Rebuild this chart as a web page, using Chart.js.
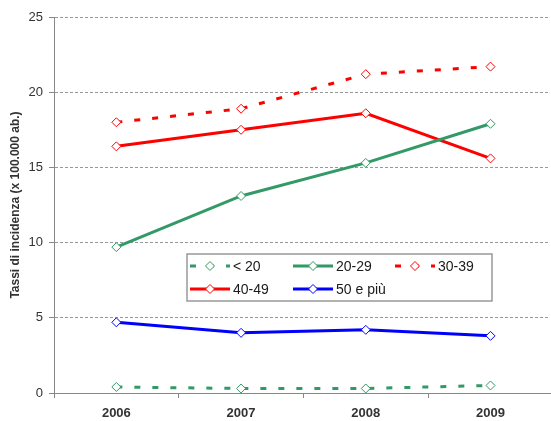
<!DOCTYPE html>
<html>
<head>
<meta charset="utf-8">
<script src="https://cdn.jsdelivr.net/npm/chart.js@4.4.1/dist/chart.umd.min.js"></script>
<style>
  html, body { margin: 0; padding: 0; background: #fff; }
  #wrap { width: 551px; height: 421px; }
</style>
</head>
<body>
<div id="wrap"><canvas id="c" width="551" height="421"></canvas></div>
<script>
// Incidence rates (per 100,000 inhabitants) by age group, 2006-2009
const years = [2006, 2007, 2008, 2009];
const under20 = [0.4, 0.3, 0.3, 0.5];
const age20to29 = [9.7, 13.1, 15.3, 17.9];
const age30to39 = [18.0, 18.9, 21.2, 21.7];
const age40to49 = [16.4, 17.5, 18.6, 15.6];
const age50plus = [4.7, 4.0, 4.2, 3.8];
const yTicks = [0, 5, 10, 15, 20, 25];

const GREEN = '#339966';
const RED = '#ff0000';
const BLUE = '#0000ff';
const FONT = "'Liberation Sans', Arial, sans-serif";

const toPoints = vals => vals.map((v, i) => ({ x: years[i], y: v }));

function series(label, vals, color, dashed) {
  return {
    label,
    data: toPoints(vals),
    borderColor: color,
    backgroundColor: color,
    borderWidth: 3,
    borderDash: dashed ? [6, 12] : [],
    pointStyle: 'rectRot',
    pointRadius: 4.5,
    pointHoverRadius: 4.5,
    pointBorderWidth: 1,
    pointBorderColor: color,
    pointBackgroundColor: '#ffffff',
    tension: 0,
    fill: false
  };
}

// Boxed legend drawn inside the plot area
const boxedLegend = {
  id: 'boxedLegend',
  afterDraw(chart, args, opts) {
    const ctx = chart.ctx;
    const b = opts.box;
    ctx.save();
    ctx.fillStyle = '#ffffff';
    ctx.fillRect(b.x, b.y, b.w, b.h);
    ctx.strokeStyle = '#999999';
    ctx.lineWidth = 1.5;
    ctx.strokeRect(b.x, b.y, b.w, b.h);
    ctx.font = opts.font;
    ctx.textBaseline = 'middle';
    chart.data.datasets.forEach((ds, i) => {
      const col = i % opts.cols.length;
      const row = Math.floor(i / opts.cols.length);
      const x = opts.cols[col];
      const y = opts.rows[row];
      ctx.strokeStyle = ds.borderColor;
      ctx.lineWidth = ds.borderWidth;
      ctx.setLineDash(ds.borderDash || []);
      ctx.beginPath();
      ctx.moveTo(x, y);
      ctx.lineTo(x + opts.sample, y);
      ctx.stroke();
      ctx.setLineDash([]);
      const cx = x + opts.sample / 2, r = ds.pointRadius;
      ctx.beginPath();
      ctx.moveTo(cx, y - r);
      ctx.lineTo(cx + r, y);
      ctx.lineTo(cx, y + r);
      ctx.lineTo(cx - r, y);
      ctx.closePath();
      ctx.fillStyle = '#ffffff';
      ctx.fill();
      ctx.lineWidth = 1;
      ctx.strokeStyle = ds.pointBorderColor;
      ctx.stroke();
      ctx.fillStyle = '#1a1a1a';
      ctx.fillText(ds.label, x + opts.sample + 3, y + 1);
    });
    ctx.restore();
  }
};

new Chart(document.getElementById('c'), {
  type: 'line',
  data: {
    datasets: [
      series('< 20', under20, GREEN, true),
      series('20-29', age20to29, GREEN, false),
      series('30-39', age30to39, RED, true),
      series('40-49', age40to49, RED, false),
      series('50 e più', age50plus, BLUE, false)
    ]
  },
  plugins: [boxedLegend],
  options: {
    responsive: false,
    animation: false,
    events: [],
    layout: { autoPadding: false, padding: { top: 17, right: 1, left: 0, bottom: 0 } },
    plugins: {
      legend: { display: false },
      tooltip: { enabled: false },
      boxedLegend: {
        box: { x: 187, y: 254, w: 305, h: 47 },
        cols: [190, 293, 395],
        rows: [266, 289],
        sample: 40,
        font: "14px " + FONT
      }
    },
    scales: {
      x: {
        type: 'linear',
        min: 2005.5,
        max: 2009.477,
        afterFit: s => { s.height = 28; s.paddingLeft = 0; s.paddingRight = 0; },
        afterBuildTicks: s => {
          const t = [];
          years.forEach(y => { t.push({ value: y - 0.5 }); t.push({ value: y }); });
          s.ticks = t;
        },
        ticks: {
          autoSkip: false,
          maxRotation: 0,
          padding: 8,
          color: '#333333',
          font: { family: FONT, size: 13, weight: 'bold' },
          callback: v => (Number.isInteger(v) ? String(v) : '')
        },
        grid: {
          drawOnChartArea: false,
          drawTicks: true,
          tickLength: 5,
          tickColor: c => (c.tick && Number.isInteger(c.tick.value) ? 'rgba(0,0,0,0)' : '#888888')
        },
        border: { display: true, color: '#888888', width: 1 }
      },
      y: {
        min: 0,
        max: 25,
        afterFit: s => { s.width = 54; s.paddingTop = 0; s.paddingBottom = 0; },
        afterBuildTicks: s => { s.ticks = yTicks.map(v => ({ value: v })); },
        ticks: {
          padding: 6,
          color: '#333333',
          font: { family: FONT, size: 13 }
        },
        grid: {
          color: c => (c.tick && c.tick.value === 0 ? 'rgba(0,0,0,0)' : '#999999'),
          lineWidth: 1,
          tickLength: 5,
          tickColor: '#888888',
          tickBorderDash: []
        },
        border: { display: true, color: '#888888', width: 1, dash: [3, 2] },
        title: {
          display: true,
          text: 'Tassi di incidenza (x 100.000 ab.)',
          color: '#333333',
          font: { family: FONT, size: 12, weight: 'bold' },
          padding: { top: 8, bottom: 0 }
        }
      }
    }
  }
});
</script>
</body>
</html>
